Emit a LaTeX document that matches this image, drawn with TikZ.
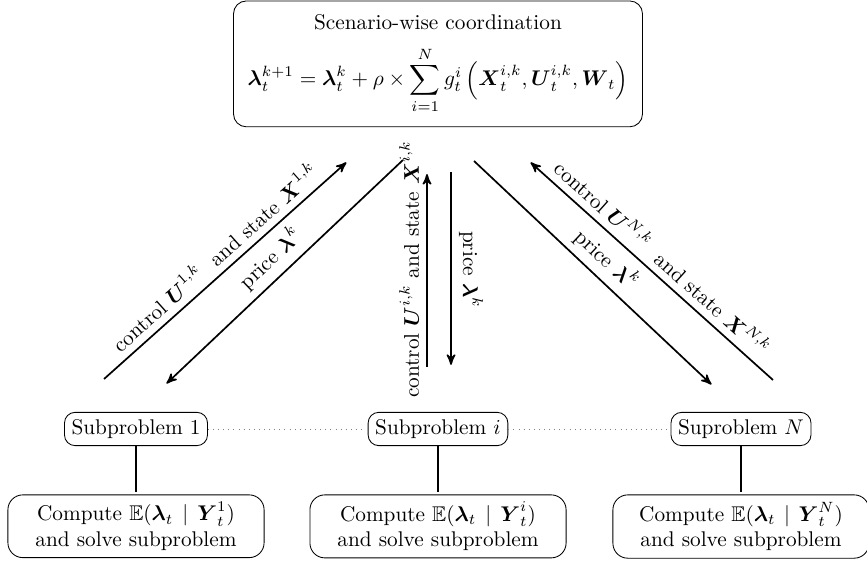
\documentclass[tikz,border=0pt]{standalone}
\usepackage{xcolor}
\usepackage{tikz}
\usetikzlibrary{arrows, positioning}
\usepackage{amsmath, amssymb, mathtools}

\begin{document}
\begin{tikzpicture}[->,
			>=stealth',
			shorten >=1pt,
			auto,
			thick,
			coordbox/.style={draw, thin, rounded corners=6pt, align=center,
				minimum width=6.76cm, minimum height=2.08cm},
			subbox/.style={draw, thin, rounded corners=5pt},
			solvebox/.style={draw, thin, rounded corners=7pt, align=center,
				text width=4cm}]

			\useasboundingbox (0,0) rectangle (14.331,9.306);

			% coordination step
			\node[coordbox] (coord) at (7.24,8.25) {Scenario-wise coordination\\[7pt]
				$\displaystyle \boldsymbol{\lambda}_t^{k+1} = \boldsymbol{\lambda}_t^{k} + \rho \times \sum_{i=1}^{N} g_t^i \left(\boldsymbol{X}_t^{i,k}, \boldsymbol{U}_t^{i,k}, \boldsymbol{W}_t\right)$};

			% subproblems
			\node[subbox] (sub1) at (2.248,2.215) {Subproblem $1$};
			\node[subbox] (subi) at (7.24,2.215) {Subproblem $i$};
			\node[subbox] (subN) at (12.248,2.215) {Suproblem $N$};

			\node[solvebox] (solve1) [below=0.8cm of sub1] {Compute $\mathbb{E}(\boldsymbol{\lambda}_t \mid \boldsymbol{Y}_t^1)$\\ and solve subproblem};
			\node[solvebox] (solvei) [below=0.8cm of subi] {Compute $\mathbb{E}(\boldsymbol{\lambda}_t \mid \boldsymbol{Y}_t^i)$\\ and solve subproblem};
			\node[solvebox] (solveN) [below=0.8cm of subN] {Compute $\mathbb{E}(\boldsymbol{\lambda}_t \mid \boldsymbol{Y}_t^N)$\\ and solve subproblem};

			\draw[-, thin, dotted, gray] (sub1) -- (subi);
			\draw[-, thin, dotted, gray] (subi) -- (subN);
			\draw[-] (sub1) -- (solve1);
			\draw[-] (subi) -- (solvei);
			\draw[-] (subN) -- (solveN);

			% arrow ends
			\coordinate (l1a) at (1.719,3.041);
			\coordinate (l1b) at (5.752,6.645);
			\coordinate (l2a) at (6.661,6.661);
			\coordinate (l2b) at (2.727,2.942);
			\coordinate (m1a) at (7.058,3.240);
			\coordinate (m1b) at (7.058,6.463);
			\coordinate (m2a) at (7.455,6.463);
			\coordinate (m2b) at (7.455,3.240);
			\coordinate (r1a) at (7.835,6.645);
			\coordinate (r1b) at (11.785,2.926);
			\coordinate (r2a) at (12.777,3.025);
			\coordinate (r2b) at (8.744,6.645);

			\draw (l1a) -- node[sloped, above] {control $\boldsymbol{U}^{1,k}$\ \ and state $\boldsymbol{X}^{1,k}$} (l1b);
			\draw (l2a) -- node[sloped, above] {price $\boldsymbol{\lambda}^{k}$} (l2b);
			\draw (m1a) -- node[sloped, above] {control $\boldsymbol{U}^{i,k}$ and state $\boldsymbol{X}^{i,k}$} (m1b);
			\draw (m2a) -- node[sloped, above] {price $\boldsymbol{\lambda}^{k}$} (m2b);
			\draw (r1a) -- node[sloped, above] {price $\boldsymbol{\lambda}^{k}$} (r1b);
			\draw (r2a) -- node[sloped, above] {control $\boldsymbol{U}^{N,k}$\ \ and state $\boldsymbol{X}^{N,k}$} (r2b);
		\end{tikzpicture}
\end{document}
